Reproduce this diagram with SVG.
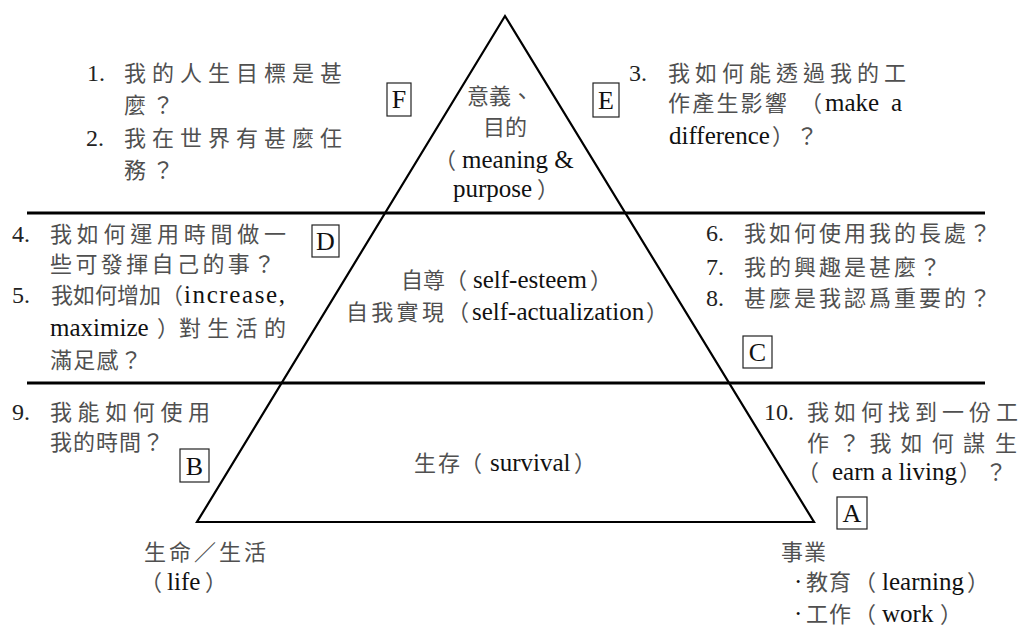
<svg xmlns="http://www.w3.org/2000/svg" width="1019" height="626" viewBox="0 0 1019 626">
<style>
.c{font-family:"Noto Sans CJK TC","Noto Sans CJK SC",sans-serif;font-size:22px;fill:#505050}
.e{font-family:"Liberation Serif",serif;font-size:25px;fill:#111}
.n{font-family:"Liberation Serif",serif;font-size:24px;fill:#222}
.box{fill:#fff;stroke:#222;stroke-width:1.2}
.lt{font-family:"Liberation Serif",serif;font-size:26px;fill:#111;text-anchor:middle}
.ln{stroke:#000;fill:none}
</style>
<rect width="1019" height="626" fill="#fff"/>
<g id="pyramid">
<polygon class="ln" points="505,16 197,522 814,522" stroke-width="2.2" stroke-linejoin="miter"/>
<line class="ln" x1="27" y1="213" x2="985" y2="213" stroke-width="3"/>
<line class="ln" x1="27" y1="383" x2="985" y2="383" stroke-width="3"/>
</g>
<g id="level-top">
<text class="c" x="467" y="104">意義、</text>
<text class="c" x="483" y="135">目的</text>
<text y="168"><tspan class="c" x="434">（</tspan><tspan class="e" x="462">meaning &amp;</tspan></text>
<text y="197"><tspan class="e" x="453">purpose</tspan><tspan class="c" x="537">）</tspan></text>
</g>
<g id="level-middle">
<text y="288"><tspan class="c" x="401">自尊</tspan><tspan class="c" x="445">（</tspan><tspan class="e" x="473">self-esteem</tspan><tspan class="c" x="590">）</tspan></text>
<text y="320"><tspan class="c" x="346" letter-spacing="3.3">自我實</tspan><tspan class="c">現</tspan><tspan class="c" x="447">（</tspan><tspan class="e" x="472">self-actualization</tspan><tspan class="c" x="646">）</tspan></text>
</g>
<g id="level-bottom">
<text y="471"><tspan class="c" x="414" letter-spacing="2">生存</tspan><tspan class="c" x="460">（</tspan><tspan class="e" x="490">survival</tspan><tspan class="c" x="574">）</tspan></text>
</g>
<g id="questions-F">
<text class="n" x="87" y="81">1.</text>
<text class="c" x="124" y="81" letter-spacing="6">我的人生目標是甚</text>
<text class="c" x="124" y="113" letter-spacing="6">麼？</text>
<text class="n" x="86" y="146">2.</text>
<text class="c" x="124" y="146" letter-spacing="6">我在世界有甚麼任</text>
<text class="c" x="124" y="178" letter-spacing="6">務？</text>
</g>
<g id="questions-E">
<text class="n" x="629" y="81">3.</text>
<text class="c" x="668" y="81" letter-spacing="5">我如何能透過我的工</text>
<text y="111"><tspan class="c" x="668" letter-spacing="2.2">作產生影響</tspan><tspan class="c" x="800">（</tspan><tspan class="e" x="825">make</tspan><tspan class="e" x="891">a</tspan></text>
<text y="144"><tspan class="e" x="669">difference</tspan><tspan class="c" x="772" letter-spacing="2">）？</tspan></text>
</g>
<g id="questions-D">
<text class="n" x="12" y="242">4.</text>
<text class="c" x="50" y="242" letter-spacing="4.75">我如何運用時間做一</text>
<text class="c" x="50" y="272" letter-spacing="3.4">些可發揮自己的事？</text>
<text class="n" x="12" y="303">5.</text>
<text y="303"><tspan class="c" x="51">我如何增加</tspan><tspan class="c" x="161">（</tspan><tspan class="e" x="184" letter-spacing="1.6">increase,</tspan></text>
<text y="336"><tspan class="e" x="50">maximize</tspan><tspan class="c" x="157">）</tspan><tspan class="c" x="179" letter-spacing="6.3">對生活的</tspan></text>
<text class="c" x="50" y="368" letter-spacing="1.3">滿足感？</text>
</g>
<g id="questions-C">
<text class="n" x="706" y="241">6.</text>
<text class="c" x="744" y="241" letter-spacing="3">我如何使用我的長處？</text>
<text class="n" x="706" y="275">7.</text>
<text class="c" x="744" y="275" letter-spacing="3">我的興趣是甚麼？</text>
<text class="n" x="706" y="306">8.</text>
<text class="c" x="744" y="306" letter-spacing="3">甚麼是我認爲重要的？</text>
</g>
<g id="questions-B">
<text class="n" x="12" y="420">9.</text>
<text class="c" x="50" y="420" letter-spacing="5.6">我能如何使用</text>
<text class="c" x="50" y="450" letter-spacing="1">我的時間？</text>
</g>
<g id="questions-A">
<text class="n" x="764" y="420">10.</text>
<text y="420"><tspan class="c" x="807" letter-spacing="5">我如何找到一份</tspan><tspan class="c" x="996">工</tspan></text>
<text y="451"><tspan class="c" x="807" letter-spacing="9.2">作？我如何謀</tspan><tspan class="c" x="995">生</tspan></text>
<text y="480"><tspan class="c" x="797">（</tspan><tspan class="e" x="832">earn a living</tspan><tspan class="c" x="959">）</tspan><tspan class="c" x="985">？</tspan></text>
</g>
<g id="label-life">
<text class="c" x="144" y="560" letter-spacing="3">生命／生活</text>
<text y="590"><tspan class="c" x="140">（</tspan><tspan class="e" x="167">life</tspan><tspan class="c" x="205">）</tspan></text>
</g>
<g id="label-career">
<text class="c" x="781" y="560" letter-spacing="1">事業</text>
<text y="590"><tspan class="e" x="794">·</tspan><tspan class="c" x="806" letter-spacing="1">教育</tspan><tspan class="c" x="854">（</tspan><tspan class="e" x="882">learning</tspan><tspan class="c" x="967">）</tspan></text>
<text y="622"><tspan class="e" x="794">·</tspan><tspan class="c" x="806" letter-spacing="1">工作</tspan><tspan class="c" x="854">（</tspan><tspan class="e" x="882">work</tspan><tspan class="c" x="940">）</tspan></text>
</g>
<g id="marker-F"><rect class="box" x="387" y="83" width="24" height="33"/><text class="lt" x="399" y="108">F</text></g>
<g id="marker-E"><rect class="box" x="593" y="83" width="26" height="34"/><text class="lt" x="606" y="109">E</text></g>
<g id="marker-D"><rect class="box" x="312" y="225" width="27" height="32"/><text class="lt" x="325.5" y="250">D</text></g>
<g id="marker-C"><rect class="box" x="743" y="336" width="29" height="32"/><text class="lt" x="757.5" y="361">C</text></g>
<g id="marker-B"><rect class="box" x="180" y="449" width="29" height="33"/><text class="lt" x="194.5" y="475">B</text></g>
<g id="marker-A"><rect class="box" x="837" y="497" width="30" height="32"/><text class="lt" x="852" y="522">A</text></g>
</svg>
